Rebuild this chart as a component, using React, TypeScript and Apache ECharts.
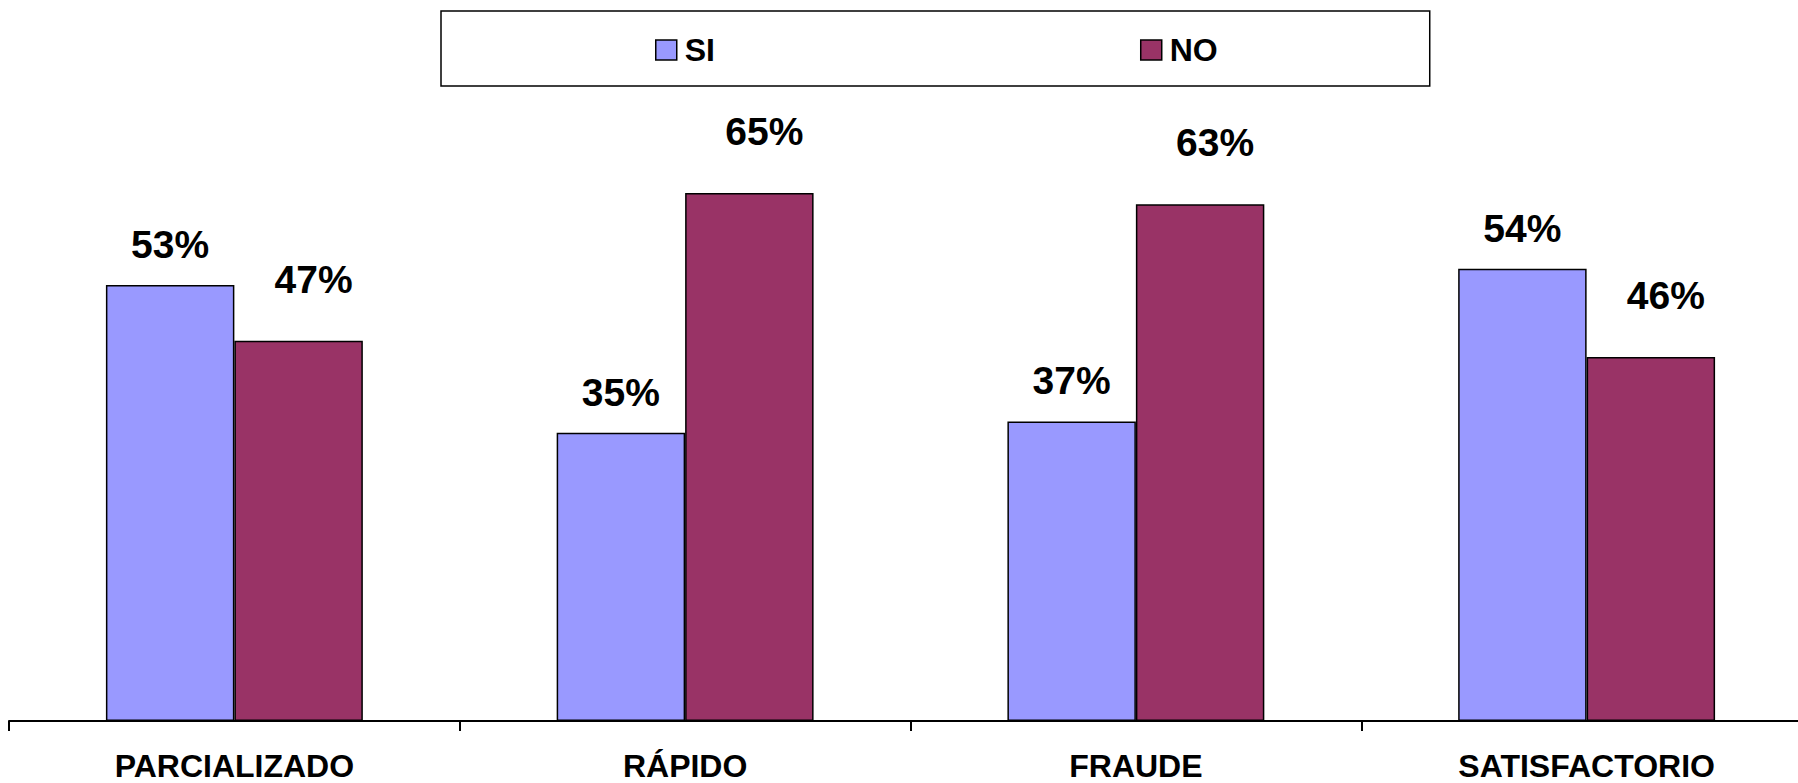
import React, { useEffect, useRef } from "react";
import * as echarts from "echarts";

const categories = ["PARCIALIZADO", "RÁPIDO", "FRAUDE", "SATISFACTORIO"];
const siValues = [53.4, 35.3, 36.7, 55.4];
const noValues = [46.6, 64.7, 63.3, 44.6];
const siLabels = ["53%", "35%", "37%", "54%"];
const noLabels = ["47%", "65%", "63%", "46%"];
const seriesNames = ["SI", "NO"];

const FONT = "'Liberation Sans', Arial, sans-serif";

export default function App() {
  const ref = useRef<HTMLDivElement>(null);
  useEffect(() => {
    if (!ref.current) return;
    const chart = echarts.init(ref.current, null, { renderer: "svg" });
    chart.setOption({
      animation: false,
      backgroundColor: "#ffffff",
      textStyle: { fontFamily: FONT },
      legend: {
        data: seriesNames,
        left: 441,
        top: 11,
        orient: "horizontal",
        padding: [22, 212, 19, 214],
        itemGap: 425,
        itemWidth: 21,
        itemHeight: 20,
        itemStyle: { borderColor: "#000", borderWidth: 1.5 },
        icon: "rect",
        borderColor: "#000",
        borderWidth: 1.5,
        textStyle: {
          fontFamily: FONT,
          fontSize: 32,
          fontWeight: "bold",
          color: "#000",
          lineHeight: 34,
          padding: [0, 0, 0, 3],
        },
      },
      grid: { left: 9, right: 0, top: 68, bottom: 62 },
      xAxis: {
        type: "category",
        data: categories,
        boundaryGap: true,
        axisLine: { show: true, lineStyle: { color: "#000", width: 2 } },
        axisTick: { show: true, alignWithLabel: false, length: 10, lineStyle: { color: "#000", width: 2 } },
        axisLabel: {
          interval: 0,
          margin: 32,
          fontFamily: FONT,
          fontSize: 32,
          lineHeight: 26,
          fontWeight: "bold",
          color: "#000",
        },
      },
      yAxis: {
        type: "value",
        min: 0,
        max: 80,
        show: false,
        splitLine: { show: false },
      },
      series: [
        {
          name: seriesNames[0],
          type: "bar",
          data: siValues,
          barGap: "0%",
          barCategoryGap: "43%",
          itemStyle: { color: "#9999FF", borderColor: "#000", borderWidth: 1.5 },
          label: {
            show: true,
            position: "top",
            distance: 21,
            fontFamily: FONT,
            fontSize: 39,
            fontWeight: "bold",
            color: "#000",
            formatter: (p: any) => siLabels[p.dataIndex],
          },
        },
        {
          name: seriesNames[1],
          type: "bar",
          data: noValues,
          barGap: "0%",
          barCategoryGap: "43%",
          itemStyle: { color: "#993366", borderColor: "#000", borderWidth: 1.5 },
          label: {
            show: true,
            position: "top",
            distance: 42,
            offset: [15, 0],
            fontFamily: FONT,
            fontSize: 39,
            fontWeight: "bold",
            color: "#000",
            formatter: (p: any) => noLabels[p.dataIndex],
          },
        },
      ],
    });
    return () => chart.dispose();
  }, []);
  return (
    <div
      ref={ref}
      style={{ position: "fixed", left: 0, top: 0, width: 1812, height: 783, background: "#fff" }}
    />
  );
}
